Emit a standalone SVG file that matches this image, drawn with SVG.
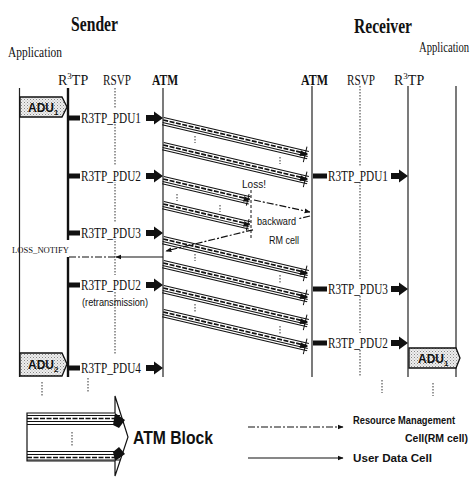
<svg xmlns="http://www.w3.org/2000/svg" xmlns:xlink="http://www.w3.org/1999/xlink" width="475" height="478" viewBox="0 0 475 478">
<style>
.serif{font-family:"Liberation Serif","Times New Roman",serif;fill:#111}
.title{font-family:"Liberation Serif","Times New Roman",serif;font-weight:bold;font-size:22px;fill:#111}
.hdr{font-family:"Liberation Serif","Times New Roman",serif;font-size:14px;fill:#111}
.pdu{font-family:"Liberation Serif","Times New Roman",serif;font-size:15px;fill:#111}
.sans{font-family:"Liberation Sans",Arial,sans-serif;fill:#111}
.life{stroke:#222;stroke-width:1.2;fill:none}
.thick{stroke:#111;stroke-width:2.4;fill:none}
.dot{stroke:#333;stroke-width:1;stroke-dasharray:1.5 1.5;fill:none}
.dd{stroke:#111;stroke-width:1.2;stroke-dasharray:7 2 2 2;fill:none}
.solid{stroke:#111;stroke-width:1.2;fill:none}
.bl{stroke:#111;stroke-width:1;fill:none}
.bd{stroke:#111;stroke-width:1.7;stroke-dasharray:5 1.5;fill:none}
.adu{fill:url(#stip);stroke:#111;stroke-width:1.3}
</style>
<defs>
<pattern id="stip" width="3" height="3" patternUnits="userSpaceOnUse">
<rect width="3" height="3" fill="#eee"/>
<rect x="0" y="0" width="1" height="1" fill="#888"/>
<rect x="1.5" y="1.5" width="1" height="1" fill="#aaa"/>
</pattern>
<marker id="ah" viewBox="0 0 10 10" refX="9" refY="5" markerWidth="6" markerHeight="6" orient="auto-start-reverse" markerUnits="userSpaceOnUse">
<path d="M0,1 L10,5 L0,9 z" fill="#111"/>
</marker>
<g id="pduArrow"><polygon points="0,-3 8,-3 8,-6.5 17,0 8,6.5 8,3 0,3" fill="#111"/></g>
<g id="bandFull">
<line class="bl" x1="0" y1="-3.6" x2="149" y2="-3.6"/>
<line class="bd" x1="0" y1="-1" x2="149" y2="-1"/>
<line class="bl" x1="0" y1="1.6" x2="149" y2="1.6"/>
<line class="bl" x1="0" y1="3.8" x2="149" y2="3.8"/>
<polygon points="141,-3 149,0 141,3" fill="#111"/>
<line class="bl" x1="146" y1="-8" x2="146" y2="8"/>
</g>
<g id="bandLost">
<line class="bl" x1="0" y1="-3.6" x2="89" y2="-3.6"/>
<line class="bd" x1="0" y1="-1" x2="89" y2="-1"/>
<line class="bl" x1="0" y1="1.6" x2="89" y2="1.6"/>
<line class="bl" x1="0" y1="3.8" x2="89" y2="3.8"/>
<polygon points="83,-3 89,0 83,3" fill="#111"/>
<line class="bl" x1="87" y1="-6" x2="87" y2="6"/>
</g>
</defs>
<rect width="475" height="478" fill="#fff"/>

<g id="titles">
<text class="title" x="71" y="31" textLength="47" lengthAdjust="spacingAndGlyphs">Sender</text>
<text class="title" x="354" y="33" textLength="58" lengthAdjust="spacingAndGlyphs">Receiver</text>
</g>

<g id="sender-application">
<text class="hdr" x="8" y="57" textLength="54" lengthAdjust="spacingAndGlyphs">Application</text>
<line class="life" x1="19.5" y1="88" x2="19.5" y2="377"/>
</g>
<g id="sender-r3tp">
<text class="hdr" x="58" y="85">R<tspan font-size="9" dy="-6">3</tspan><tspan dy="6">TP</tspan></text>
<line class="thick" x1="68" y1="88" x2="68" y2="240"/>
<line class="thick" x1="68" y1="257" x2="68" y2="377"/>
</g>
<g id="sender-rsvp">
<text class="hdr" x="103" y="85" textLength="28" lengthAdjust="spacingAndGlyphs">RSVP</text>
<line class="dot" x1="115" y1="88" x2="115" y2="355"/>
</g>
<g id="sender-atm">
<text class="hdr" x="152" y="85" font-weight="bold" textLength="26" lengthAdjust="spacingAndGlyphs">ATM</text>
<line class="life" x1="163" y1="88" x2="163" y2="377"/>
</g>
<g id="receiver-atm">
<text class="hdr" x="301" y="85" font-weight="bold" textLength="27" lengthAdjust="spacingAndGlyphs">ATM</text>
<line class="life" x1="312" y1="86" x2="312" y2="377"/>
</g>
<g id="receiver-rsvp">
<text class="hdr" x="347" y="85" textLength="28" lengthAdjust="spacingAndGlyphs">RSVP</text>
<line class="dot" x1="360" y1="86" x2="360" y2="377"/>
</g>
<g id="receiver-r3tp">
<text class="hdr" x="394" y="85">R<tspan font-size="9" dy="-6">3</tspan><tspan dy="6">TP</tspan></text>
<line class="life" x1="408" y1="86" x2="408" y2="377"/>
</g>
<g id="receiver-application">
<text class="hdr" transform="translate(419,52) scale(0.76,1)" x="0" y="0">Application</text>
<line class="life" x1="456" y1="86" x2="456" y2="377"/>
</g>

<g id="adu1-sender">
<path class="adu" d="M20,97 H62 L67,107 L62,117 H20 Z"/>
<text class="sans" x="28" y="112" font-size="12" font-weight="bold">ADU<tspan font-size="8" dy="3">1</tspan></text>
</g>
<g id="adu2-sender">
<path class="adu" d="M20,353 H62 L67,364 L62,376 H20 Z"/>
<text class="sans" x="28" y="369" font-size="12" font-weight="bold">ADU<tspan font-size="8" dy="3">2</tspan></text>
</g>
<g id="adu1-receiver">
<path class="adu" d="M409,348 H456 L460,358 L456,368 H409 Z"/>
<text class="sans" x="418" y="363" font-size="12" font-weight="bold">ADU<tspan font-size="8" dy="3">1</tspan></text>
</g>

<g id="sender-pdus">
<rect x="68" y="115.5" width="12" height="5" fill="#111"/>
<rect x="82" y="108" width="62" height="16" fill="#fff"/>
<text class="pdu" x="81" y="123" textLength="60" lengthAdjust="spacingAndGlyphs">R3TP_PDU1</text>
<use href="#pduArrow" x="146" y="118"/>

<rect x="68" y="173.5" width="12" height="5" fill="#111"/>
<rect x="82" y="166" width="62" height="16" fill="#fff"/>
<text class="pdu" x="81" y="181" textLength="60" lengthAdjust="spacingAndGlyphs">R3TP_PDU2</text>
<use href="#pduArrow" x="146" y="176"/>

<rect x="68" y="230.5" width="12" height="5" fill="#111"/>
<rect x="82" y="223" width="62" height="16" fill="#fff"/>
<text class="pdu" x="81" y="238" textLength="60" lengthAdjust="spacingAndGlyphs">R3TP_PDU3</text>
<use href="#pduArrow" x="146" y="233"/>

<rect x="68" y="282.5" width="12" height="5" fill="#111"/>
<rect x="82" y="275" width="62" height="16" fill="#fff"/>
<text class="pdu" x="81" y="290" textLength="60" lengthAdjust="spacingAndGlyphs">R3TP_PDU2</text>
<use href="#pduArrow" x="146" y="285"/>
<text class="sans" x="82" y="306" font-size="10" textLength="66" lengthAdjust="spacingAndGlyphs">(retransmission)</text>

<rect x="68" y="365.5" width="12" height="5" fill="#111"/>
<rect x="82" y="358" width="62" height="16" fill="#fff"/>
<text class="pdu" x="81" y="373" textLength="60" lengthAdjust="spacingAndGlyphs">R3TP_PDU4</text>
<use href="#pduArrow" x="146" y="368"/>
</g>

<g id="receiver-pdus">
<rect x="313" y="173.5" width="14" height="5" fill="#111"/>
<rect x="328" y="166" width="62" height="16" fill="#fff"/>
<text class="pdu" x="328" y="181" textLength="60" lengthAdjust="spacingAndGlyphs">R3TP_PDU1</text>
<use href="#pduArrow" x="391" y="176"/>

<rect x="313" y="286.5" width="14" height="5" fill="#111"/>
<rect x="328" y="279" width="62" height="16" fill="#fff"/>
<text class="pdu" x="328" y="294" textLength="60" lengthAdjust="spacingAndGlyphs">R3TP_PDU3</text>
<use href="#pduArrow" x="391" y="289"/>

<rect x="313" y="340.5" width="14" height="5" fill="#111"/>
<rect x="328" y="333" width="62" height="16" fill="#fff"/>
<text class="pdu" x="328" y="348" textLength="60" lengthAdjust="spacingAndGlyphs">R3TP_PDU2</text>
<use href="#pduArrow" x="391" y="343"/>
</g>

<g id="atm-blocks">
<use href="#bandFull" transform="translate(163,121) rotate(13.2)"/>
<use href="#bandFull" transform="translate(163,146) rotate(13.2)"/>
<line class="dot" x1="195" y1="136" x2="195" y2="143"/>
<line class="dot" x1="280" y1="157" x2="280" y2="164"/>

<use href="#bandLost" transform="translate(163,180) rotate(13.2)"/>
<use href="#bandLost" transform="translate(163,205) rotate(13.2)"/>
<line class="dot" x1="177" y1="194" x2="177" y2="201"/>
<line class="dot" x1="220" y1="205" x2="220" y2="212"/>

<use href="#bandFull" transform="translate(163,240) rotate(13.2)"/>
<use href="#bandFull" transform="translate(163,264) rotate(13.2)"/>
<line class="dot" x1="195" y1="254" x2="195" y2="261"/>
<line class="dot" x1="280" y1="275" x2="280" y2="283"/>

<use href="#bandFull" transform="translate(163,289) rotate(13.2)"/>
<use href="#bandFull" transform="translate(163,313) rotate(13.2)"/>
<line class="dot" x1="195" y1="304" x2="195" y2="312"/>
<line class="dot" x1="280" y1="326" x2="280" y2="334"/>
</g>

<g id="connectors">
<line x1="251" y1="190" x2="251" y2="240" stroke="#111" stroke-width="1" stroke-dasharray="3 2"/>
<line class="dd" x1="254" y1="200" x2="310" y2="212" marker-end="url(#ah)"/>
<line class="dd" x1="310" y1="216" x2="299" y2="218.6"/>
<line class="dd" x1="253" y1="229.8" x2="166" y2="251" marker-end="url(#ah)"/>
<line class="solid" x1="163" y1="257" x2="116" y2="257" marker-end="url(#ah)"/>
<line class="dd" x1="115" y1="257" x2="68" y2="257"/>
</g>

<g id="annotations">
<text class="sans" x="242" y="188" font-size="11.5" textLength="24" lengthAdjust="spacingAndGlyphs">Loss!</text>
<text class="sans" x="257" y="225" font-size="11" textLength="39" lengthAdjust="spacingAndGlyphs">backward</text>
<text class="sans" x="269" y="244" font-size="11" textLength="30" lengthAdjust="spacingAndGlyphs">RM cell</text>
<text class="serif" x="12" y="253" font-size="9" textLength="57" lengthAdjust="spacingAndGlyphs">LOSS_NOTIFY</text>
</g>

<g id="continuation">
<line class="dot" x1="42" y1="382" x2="42" y2="396"/>
<line class="dot" x1="88" y1="378" x2="88" y2="392"/>
<line class="dot" x1="382" y1="380" x2="382" y2="393"/>
<line class="dot" x1="433" y1="383" x2="433" y2="396"/>
</g>

<g id="legend-atm-block">
<path d="M27,413 H115 V396 L128,437 L115,476 V461 H27 Z" fill="#fff" stroke="#111" stroke-width="1.2"/>
<line class="bl" x1="27" y1="415.5" x2="120" y2="415.5"/>
<line class="bd" x1="27" y1="418.5" x2="120" y2="418.5"/>
<line class="bl" x1="27" y1="421.5" x2="120" y2="421.5"/>
<line class="bl" x1="27" y1="424.5" x2="120" y2="424.5"/>
<polygon points="115,413 125,420 119,428 113,425" fill="#111"/>
<line class="bl" x1="27" y1="451.5" x2="120" y2="451.5"/>
<line class="bl" x1="27" y1="454.5" x2="120" y2="454.5"/>
<line class="bd" x1="27" y1="457.5" x2="120" y2="457.5"/>
<line class="bl" x1="27" y1="460" x2="120" y2="460"/>
<polygon points="113,452 119,447 125,454 115,461" fill="#111"/>
<line class="dot" x1="72" y1="432" x2="72" y2="447"/>
<text class="sans" x="133" y="444" font-size="19" font-weight="bold" textLength="80" lengthAdjust="spacingAndGlyphs">ATM Block</text>
</g>

<g id="legend-lines">
<line class="dd" x1="248" y1="427" x2="343" y2="427" marker-end="url(#ah)"/>
<text class="sans" x="353" y="424" font-size="11" font-weight="bold" textLength="102" lengthAdjust="spacingAndGlyphs">Resource Management</text>
<text class="sans" x="405" y="442" font-size="11" font-weight="bold" textLength="63" lengthAdjust="spacingAndGlyphs">Cell(RM cell)</text>
<line class="solid" x1="248" y1="458" x2="343" y2="458" marker-end="url(#ah)"/>
<text class="sans" x="353" y="462" font-size="11" font-weight="bold" textLength="79" lengthAdjust="spacingAndGlyphs">User Data Cell</text>
</g>
</svg>
